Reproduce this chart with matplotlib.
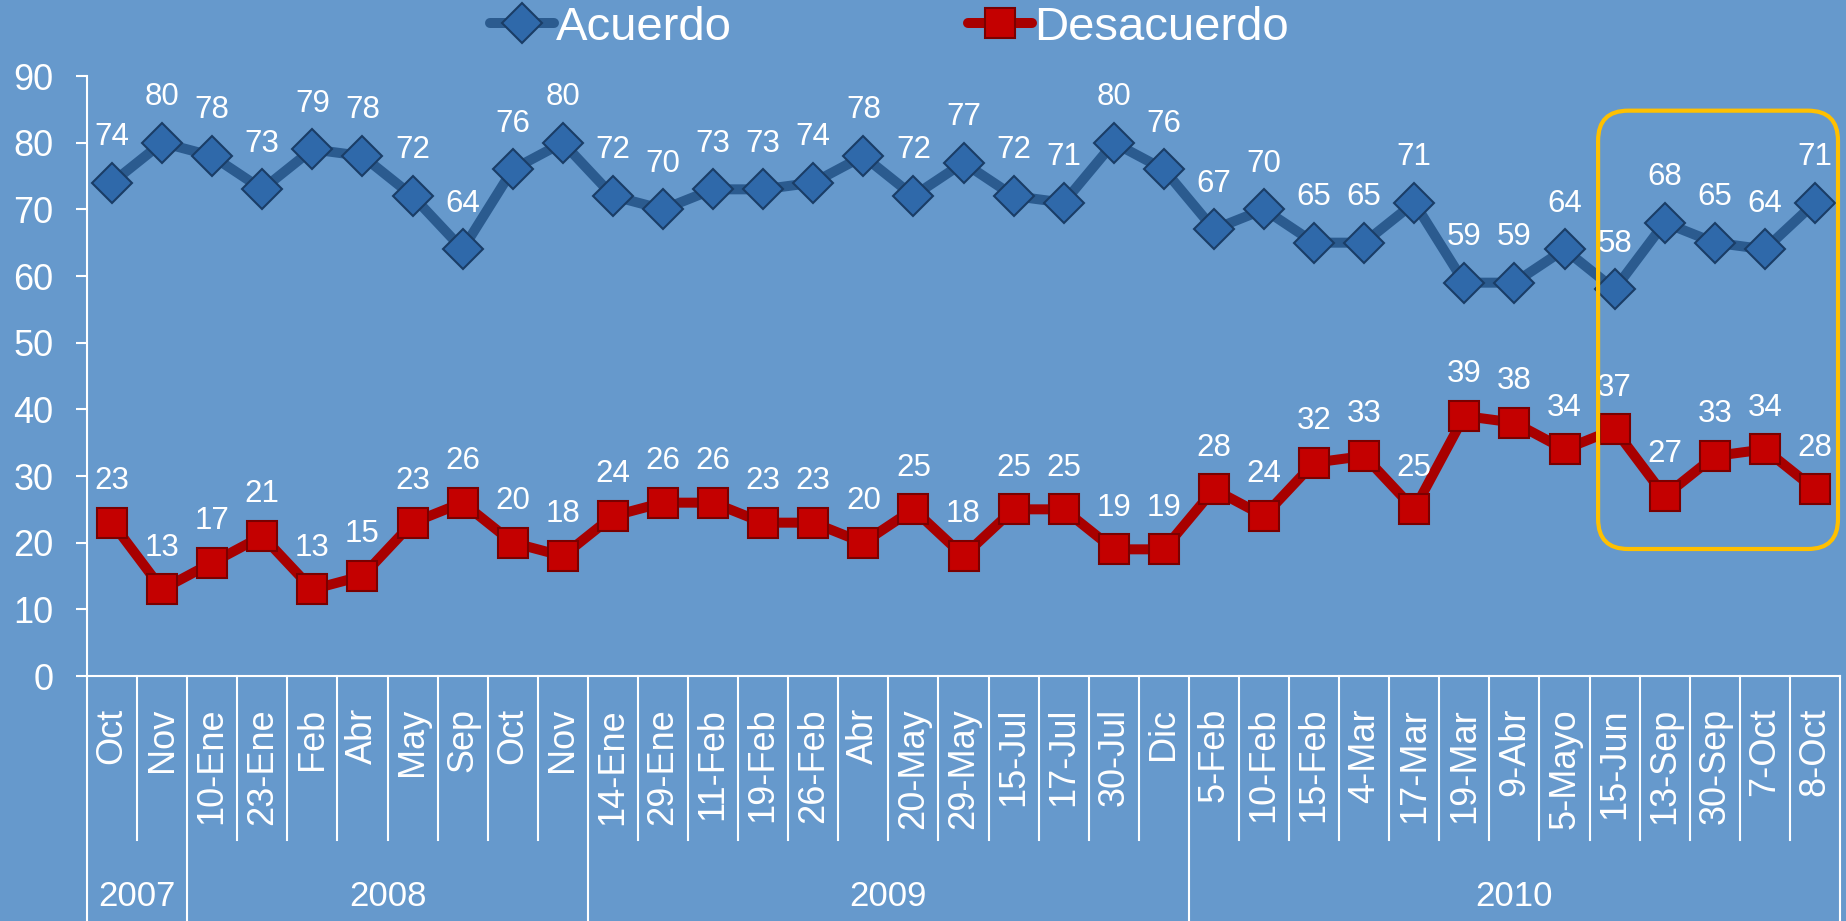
import matplotlib
matplotlib.use("Agg")
import matplotlib.pyplot as plt
from matplotlib.patches import FancyBboxPatch
from matplotlib.transforms import blended_transform_factory

plt.rcParams['font.family'] = ['Liberation Sans', 'DejaVu Sans']

categories = ["Oct", "Nov",
              "10-Ene", "23-Ene", "Feb", "Abr", "May", "Sep", "Oct", "Nov",
              "14-Ene", "29-Ene", "11-Feb", "19-Feb", "26-Feb", "Abr", "20-May", "29-May",
              "15-Jul", "17-Jul", "30-Jul", "Dic",
              "5-Feb", "10-Feb", "15-Feb", "4-Mar", "17-Mar", "19-Mar", "9-Abr", "5-Mayo",
              "15-Jun", "13-Sep", "30-Sep", "7-Oct", "8-Oct"]
years = ["2007", "2008", "2009", "2010"]
year_counts = [2, 8, 12, 13]

acuerdo = [74, 80, 78, 73, 79, 78, 72, 64, 76, 80,
           72, 70, 73, 73, 74, 78, 72, 77, 72, 71,
           80, 76, 67, 70, 65, 65, 71, 59, 59, 64,
           58, 68, 65, 64, 71]
desacuerdo = [23, 13, 17, 21, 13, 15, 23, 26, 20, 18,
              24, 26, 26, 23, 23, 20, 25, 18, 25, 25,
              19, 19, 28, 24, 32, 33, 25, 39, 38, 34,
              37, 27, 33, 34, 28]

BG = '#6699cc'
W, H = 1846, 921
fig = plt.figure(figsize=(W / 100, H / 100), dpi=100, facecolor=BG)
ax_left, ax_right, ax_top, ax_bot = 87, 1840, 76, 676
ax = fig.add_axes([ax_left / W, (H - ax_bot) / H, (ax_right - ax_left) / W, (ax_bot - ax_top) / H])
ax.set_facecolor(BG)

x = list(range(len(categories)))
l1, = ax.plot(x, acuerdo, color='#2b5b8f', lw=7.2, marker='D', ms=20,
              markerfacecolor='#2f69aa', markeredgecolor='#1a3d66', markeredgewidth=1.5,
              solid_joinstyle='round', solid_capstyle='round', label='Acuerdo', zorder=3)
l2, = ax.plot(x, desacuerdo, color='#a80000', lw=7.2, marker='s', ms=22,
              markerfacecolor='#c40000', markeredgecolor='#7a0000', markeredgewidth=1.5,
              solid_joinstyle='round', solid_capstyle='round', label='Desacuerdo', zorder=3)

for xi, v in zip(x, acuerdo):
    ax.annotate(str(v), (xi, v), xytext=(0, 33), textcoords='offset points',
                ha='center', va='center', fontsize=22.5, color='white', zorder=4)
for xi, v in zip(x, desacuerdo):
    ax.annotate(str(v), (xi, v), xytext=(0, 30), textcoords='offset points',
                ha='center', va='center', fontsize=22.5, color='white', zorder=4)

ax.set_xlim(-0.5, len(categories) - 0.5)
ax.set_ylim(0, 90)
ax.set_yticks(range(0, 91, 10))
ax.tick_params(axis='y', colors='white', labelsize=26, length=8, width=1.5, pad=16)
ax.set_xticks(x)
ax.set_xticklabels(categories, rotation=90, va='top', ha='center')
ax.tick_params(axis='x', colors='white', labelsize=26, length=0, pad=23)
for s in ['top', 'right']:
    ax.spines[s].set_visible(False)
for s in ['left', 'bottom']:
    ax.spines[s].set_color('white')
    ax.spines[s].set_linewidth(1.5)

trans = blended_transform_factory(ax.transData, ax.transAxes)
px_per_ax = (ax_bot - ax_top)
cat_bottom = -(840 - ax_bot) / px_per_ax
fig_bottom = -(H - ax_bot) / px_per_ax
year_y = -(896 - ax_bot) / px_per_ax

bounds = [-0.5]
c = -0.5
for n in year_counts:
    c += n
    bounds.append(c)
for i in range(1, len(categories)):
    b = i - 0.5
    if b not in bounds:
        ax.plot([b, b], [0, cat_bottom], transform=trans, color='white', lw=1.5, clip_on=False)
for b in bounds:
    ax.plot([b, b], [0, fig_bottom], transform=trans, color='white', lw=1.5, clip_on=False)
for yr, a, b in zip(years, bounds[:-1], bounds[1:]):
    ax.text((a + b) / 2, year_y, yr, transform=trans, ha='center', va='center',
            fontsize=25, color='white')

# highlight box
x0, x1, y0, y1 = 29.67, 34.46, 19.05, 84.8
px_x = (ax_right - ax_left) / len(categories)
px_y = (ax_bot - ax_top) / 90
box = FancyBboxPatch((x0, y0), x1 - x0, y1 - y0,
                     boxstyle='round,pad=0,rounding_size=%f' % (30 / px_x),
                     mutation_aspect=px_x / px_y, fill=False, edgecolor='#ffc000',
                     lw=3, clip_on=False, zorder=6)
ax.add_patch(box)

fig.legend(handles=[l1, l2], loc='center left', bbox_to_anchor=(490 / W, 1 - 28 / H),
           ncol=2, frameon=False, fontsize=34, handlelength=1.35, handletextpad=0.05,
           columnspacing=5.0, borderpad=0, borderaxespad=0, labelcolor='white')

fig.savefig('out.png', dpi=100, facecolor=BG)
